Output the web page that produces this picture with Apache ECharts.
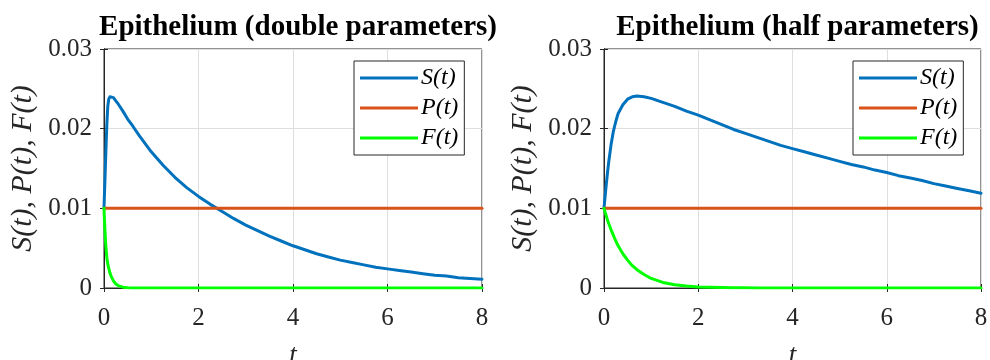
<!DOCTYPE html>
<html>
<head>
<meta charset="utf-8">
<script src="https://cdn.jsdelivr.net/npm/echarts@6/dist/echarts.min.js"></script>
<style>
  html, body { margin: 0; padding: 0; background: #fff; }
  #chart { width: 990px; height: 360px; }
</style>
</head>
<body>
<div id="chart"></div>
<script>
// Panel titles and legend names
const panelTitles = ['Epithelium (double parameters)', 'Epithelium (half parameters)'];
const seriesNames = ['S(t)', 'P(t)', 'F(t)'];
const seriesColors = ['#0072BD', '#D95319', '#00FF00'];

// Axis ticks
const xTicks = [0, 2, 4, 6, 8];
const yTicks = [0, 0.01, 0.02, 0.03];

// Left panel: double parameters
const tDouble = [0, 0.01, 0.02, 0.03, 0.04, 0.06, 0.08, 0.1, 0.125, 0.15, 0.2, 0.25, 0.3, 0.4, 0.5, 0.6, 0.75, 0.875,
  1, 1.25, 1.5, 1.75, 2, 2.25, 2.5, 2.75, 3, 3.25, 3.5, 3.75, 4, 4.25, 4.5, 4.75, 5, 5.25, 5.5, 5.75, 6, 6.25, 6.5, 6.75, 7, 7.25, 7.5, 7.75, 8];
const sDouble = [0.0100, 0.0118, 0.0135, 0.0154, 0.0172, 0.0205, 0.0228, 0.0237, 0.0240, 0.0241, 0.0239, 0.0235, 0.0231, 0.0222, 0.0212, 0.0204, 0.0191, 0.0181,
  0.0171, 0.0154, 0.0139, 0.0126, 0.0115, 0.0105, 0.0096, 0.0087, 0.0079, 0.0072, 0.0065, 0.0059, 0.0053, 0.0048, 0.0043, 0.0039, 0.0035, 0.0032, 0.0029, 0.0026, 0.0024, 0.0022, 0.0020, 0.0018, 0.0016, 0.0015, 0.0013, 0.0012, 0.0011];
const pDouble = [0.01, 0.01, 0.01, 0.01, 0.01, 0.01, 0.01, 0.01, 0.01, 0.01, 0.01, 0.01, 0.01, 0.01, 0.01, 0.01, 0.01, 0.01,
  0.01, 0.01, 0.01, 0.01, 0.01, 0.01, 0.01, 0.01, 0.01, 0.01, 0.01, 0.01, 0.01, 0.01, 0.01, 0.01, 0.01, 0.01, 0.01, 0.01, 0.01, 0.01, 0.01, 0.01, 0.01, 0.01, 0.01, 0.01, 0.01];
const fDouble = [0.0100, 0.0085, 0.0072, 0.0061, 0.0052, 0.0038, 0.0030, 0.0025, 0.0019, 0.0015, 0.0009, 0.0005, 0.0003, 0.0001, 0.00004, 0.00001, 0, 0,
  0, 0, 0, 0, 0, 0, 0, 0, 0, 0, 0, 0, 0, 0, 0, 0, 0, 0, 0, 0, 0, 0, 0, 0, 0, 0, 0, 0, 0];

// Right panel: half parameters
const tHalf = [0, 0.025, 0.05, 0.075, 0.1, 0.15, 0.2, 0.25, 0.3, 0.4, 0.5, 0.6, 0.7, 0.85,
  1, 1.25, 1.5, 1.75, 2, 2.25, 2.5, 2.75, 3, 3.25, 3.5, 3.75, 4, 4.25, 4.5, 4.75, 5, 5.25, 5.5, 5.75, 6, 6.25, 6.5, 6.75, 7, 7.25, 7.5, 7.75, 8];
const sHalf = [0.0100, 0.0116, 0.0131, 0.0145, 0.0158, 0.0180, 0.0197, 0.0209, 0.0219, 0.0230, 0.0237, 0.0240, 0.0241, 0.0240,
  0.0238, 0.0233, 0.0228, 0.0222, 0.0217, 0.0211, 0.0205, 0.0199, 0.0194, 0.0189, 0.0184, 0.0179, 0.0175, 0.0171, 0.0167, 0.0163, 0.0159, 0.0155, 0.0152, 0.0148, 0.0145, 0.0141, 0.0138, 0.0135, 0.0131, 0.0128, 0.0125, 0.0122, 0.0119];
const pHalf = [0.01, 0.01, 0.01, 0.01, 0.01, 0.01, 0.01, 0.01, 0.01, 0.01, 0.01, 0.01, 0.01, 0.01,
  0.01, 0.01, 0.01, 0.01, 0.01, 0.01, 0.01, 0.01, 0.01, 0.01, 0.01, 0.01, 0.01, 0.01, 0.01, 0.01, 0.01, 0.01, 0.01, 0.01, 0.01, 0.01, 0.01, 0.01, 0.01, 0.01, 0.01, 0.01, 0.01];
const fHalf = [0.0100, 0.0095, 0.0090, 0.0085, 0.0081, 0.0073, 0.0066, 0.0059, 0.0053, 0.0043, 0.0035, 0.0028, 0.0023, 0.0017,
  0.0012, 0.0007, 0.0004, 0.00024, 0.00014, 0.00008, 0.00005, 0.00003, 0.00002, 0, 0, 0, 0, 0, 0, 0, 0, 0, 0, 0, 0, 0, 0, 0, 0, 0, 0, 0, 0];

const panels = [
  { t: tDouble, vals: [sDouble, pDouble, fDouble], left: 104, width: 378, legendLeft: 354 },
  { t: tHalf, vals: [sHalf, pHalf, fHalf], left: 604, width: 377, legendLeft: 853 }
];

const FONT = '"Liberation Serif", "Times New Roman", serif';
const AXIS_COLOR = '#262626';
const GRID_TOP = 49, GRID_HEIGHT = 239;

const grids = [], xAxes = [], yAxes = [], series = [], legends = [], titles = [];

panels.forEach((p, i) => {
  grids.push({
    left: p.left, top: GRID_TOP, width: p.width, height: GRID_HEIGHT,
    outerBoundsMode: 'none', containLabel: false,
    show: true, borderColor: AXIS_COLOR, borderWidth: 1, backgroundColor: '#fff'
  });
  const xMin = xTicks[0], xMax = xTicks[xTicks.length - 1];
  const yMin = yTicks[0], yMax = yTicks[yTicks.length - 1];
  // bottom x axis with labels and name
  xAxes.push({
    gridIndex: i, type: 'value', min: xMin, max: xMax, interval: xTicks[1] - xTicks[0],
    position: 'bottom',
    name: 't', nameLocation: 'middle', nameGap: 54,
    nameTextStyle: { fontFamily: FONT, fontStyle: 'italic', fontSize: 27, color: AXIS_COLOR },
    axisLine: { show: true, lineStyle: { color: AXIS_COLOR, width: 1 } },
    axisTick: { show: true, inside: true, length: 4, lineStyle: { color: AXIS_COLOR } },
    axisLabel: { fontFamily: FONT, fontSize: 25, color: AXIS_COLOR, margin: 18 },
    splitLine: { show: true, lineStyle: { color: '#dedede', width: 1 } }
  });
  // top x axis: ticks only
  xAxes.push({
    gridIndex: i, type: 'value', min: xMin, max: xMax, interval: xTicks[1] - xTicks[0],
    position: 'top',
    axisLine: { show: true, lineStyle: { color: AXIS_COLOR, width: 1 } },
    axisTick: { show: true, inside: true, length: 4, lineStyle: { color: AXIS_COLOR } },
    axisLabel: { show: false }, splitLine: { show: false }
  });
  // left y axis with labels and name
  yAxes.push({
    gridIndex: i, type: 'value', min: yMin, max: yMax, interval: yTicks[1] - yTicks[0],
    position: 'left',
    name: 'S(t), P(t), F(t)', nameLocation: 'middle', nameGap: 66,
    nameTextStyle: { fontFamily: FONT, fontStyle: 'italic', fontSize: 30, color: AXIS_COLOR },
    axisLine: { show: true, lineStyle: { color: AXIS_COLOR, width: 1 } },
    axisTick: { show: true, inside: true, length: 4, lineStyle: { color: AXIS_COLOR } },
    axisLabel: {
      fontFamily: FONT, fontSize: 25, color: AXIS_COLOR, margin: 12,
      formatter: v => (v === 0 ? '0' : v.toFixed(2))
    },
    splitLine: { show: true, lineStyle: { color: '#dedede', width: 1 } }
  });
  // right y axis: ticks only
  yAxes.push({
    gridIndex: i, type: 'value', min: yMin, max: yMax, interval: yTicks[1] - yTicks[0],
    position: 'right',
    axisLine: { show: true, lineStyle: { color: AXIS_COLOR, width: 1 } },
    axisTick: { show: true, inside: true, length: 4, lineStyle: { color: AXIS_COLOR } },
    axisLabel: { show: false }, splitLine: { show: false }
  });

  titles.push({
    text: panelTitles[i],
    left: p.left + p.width / 2, top: 8, textAlign: 'center',
    textStyle: { fontFamily: FONT, fontWeight: 'bold', fontSize: 29, color: '#000' }
  });

  seriesNames.forEach((name, k) => {
    series.push({
      name: name + (i === 0 ? '' : '\u200b'),
      type: 'line',
      xAxisIndex: i * 2, yAxisIndex: i * 2,
      data: p.t.map((t, j) => [t, p.vals[k][j]]),
      showSymbol: false, symbol: 'none',
      smooth: false,
      lineStyle: { color: seriesColors[k], width: 3, join: 'round', cap: 'round' },
      itemStyle: { color: seriesColors[k] },
      clip: true, z: 3 + k,
      animation: false
    });
  });

  legends.push({
    data: seriesNames.map(n => ({ name: n + (i === 0 ? '' : '\u200b'), icon: 'rect' })),
    orient: 'vertical',
    left: p.legendLeft, top: 61,
    itemWidth: 58, itemHeight: 3, itemGap: 6,
    padding: [5, 6, 5, 6],
    borderColor: AXIS_COLOR, borderWidth: 1, backgroundColor: '#fff',
    selectedMode: false,
    formatter: n => n.replace('\u200b', ''),
    textStyle: { fontFamily: FONT, fontStyle: 'italic', fontSize: 24, color: '#000', padding: [0, 0, 0, -2] }
  });
});

const chart = echarts.init(document.getElementById('chart'), null, { renderer: 'canvas' });
chart.setOption({
  animation: false,
  backgroundColor: '#fff',
  title: titles,
  grid: grids,
  xAxis: xAxes,
  yAxis: yAxes,
  legend: legends,
  series: series
});
</script>
</body>
</html>
